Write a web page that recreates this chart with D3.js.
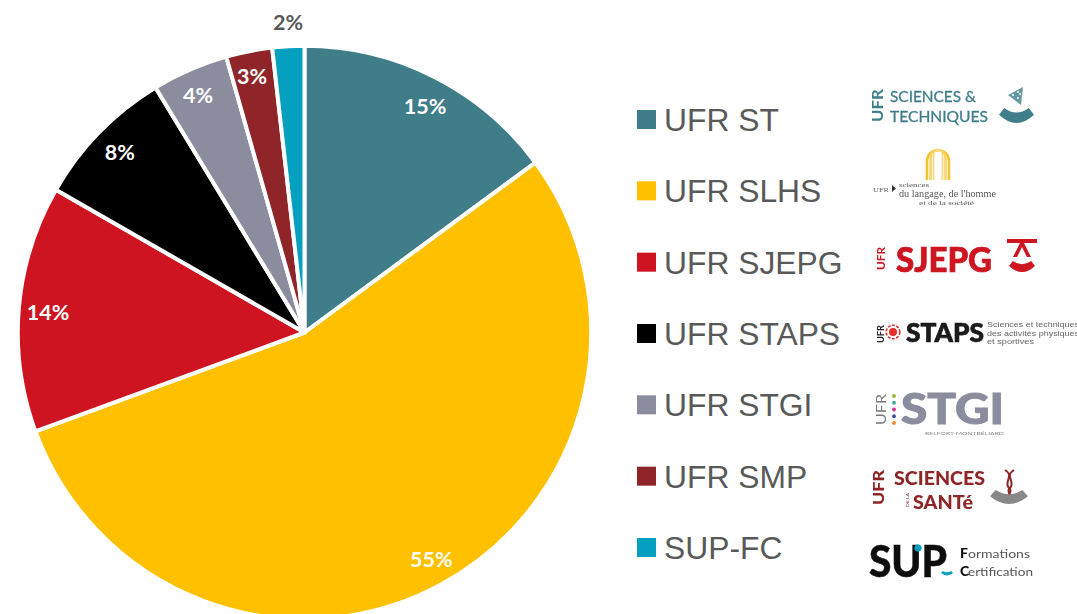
<!DOCTYPE html>
<html><head><meta charset="utf-8">
<script src="https://cdnjs.cloudflare.com/ajax/libs/d3/7.8.5/d3.min.js"></script>
<style>html,body{margin:0;padding:0;background:#fff;overflow:hidden}svg{display:block}</style>
</head><body><svg id="c" width="1077" height="614"></svg>
<script>
const categories = ["UFR ST","UFR SLHS","UFR SJEPG","UFR STAPS","UFR STGI","UFR SMP","SUP-FC"];
const shares = [14.9,54.5,13.9,8.0,4.3,2.6,1.8];
const colors = ["#3F7E89","#FFC000","#CE1420","#000000","#8B8C9E","#8F2528","#05A0C0"];
const labelRadii = [0.899,0.909,0.901,0.904,0.913,0.916,1.089];
const labelTurn = [1.2,-1,-0.3,0,-0.5,-0.4,0.2];

const svg = d3.select("#c");
const cx=304.5, cy=332.5, R=286.7, labelR=285.5;
const pie = d3.pie().sort(null).value(d=>d)(shares);
const arc = d3.arc().innerRadius(0).outerRadius(R);
const g = svg.append("g").attr("transform",`translate(${cx},${cy})`);
g.selectAll("path").data(pie).join("path")
 .attr("d",arc).attr("fill",(d,i)=>colors[i]).attr("stroke","#fff").attr("stroke-width",4).attr("stroke-linejoin","round");
const fmt = d3.format(".0%");
g.selectAll("text").data(pie).join("text")
 .attr("transform",(d,i)=>{const a=(d.startAngle+d.endAngle)/2+labelTurn[i]*Math.PI/180,r=labelR*labelRadii[i];return `translate(${r*Math.sin(a)},${-r*Math.cos(a)})`;})
 .attr("text-anchor","middle").attr("dominant-baseline","central")
 .attr("font-family","Lato").attr("font-weight",700).attr("font-size",21.5)
 .attr("fill",(d,i)=>i===6?"#595959":"#fff")
 .text(d=>fmt(d.value/100));

const y = d3.scalePoint().domain(categories).range([120,548]);
const leg = svg.append("g");
leg.selectAll("rect").data(categories).join("rect")
 .attr("x",637).attr("y",d=>y(d)-10).attr("width",19).attr("height",19).attr("fill",(d,i)=>colors[i]);
leg.selectAll("text").data(categories).join("text")
 .attr("x",664).attr("y",d=>y(d)+11).attr("font-family","Liberation Sans").attr("font-size",31.8).attr("fill","#595959").text(d=>d);

// logos
svg.append("defs").append("filter").attr("id","soft").append("feGaussianBlur").attr("stdDeviation",0.4);
const logo = svg.append("g").attr("filter","url(#soft)");
function t(x,y,s,size,fill,o={}){
  return logo.append("text").attr("x",x).attr("y",y).attr("font-size",size).attr("fill",fill)
    .attr("font-family",o.f||"Lato").attr("font-weight",o.w||400)
    .attr("stroke",o.s?fill:null).attr("stroke-width",o.s||null)
    .attr("textLength",o.l||null).attr("lengthAdjust",o.l?"spacingAndGlyphs":null)
    .attr("transform",o.r?`rotate(-90 ${x} ${y})`:null).text(s);
}
const smile=(x,y,w,h,fill)=>logo.append("path").attr("fill",fill)
  .attr("d",`M${x} ${y+h*.45}L${x+w*.15} ${y}Q${x+w/2} ${y+h*.6} ${x+w*.85} ${y}L${x+w} ${y+h*.45}Q${x+w/2} ${y+h*1.55} ${x} ${y+h*.45}Z`);
const dot=(x,y,r,fill)=>logo.append("circle").attr("cx",x).attr("cy",y).attr("r",r).attr("fill",fill);

// ST
const st="#3F7E89";
t(883,122,"UFR",15,st,{r:1,w:700,l:33});
t(890,101.5,"SCIENCES &",16,st,{w:400,l:86,s:.3});
t(890,122,"TECHNIQUES",15.5,st,{w:400,l:98,s:.3});
logo.append("path").attr("d","M1023 87L1008 95L1021 105Z").attr("fill",st).attr("opacity",.8);
[[1013,95],[1018,92],[1018,98],[1020,94]].forEach(p=>dot(p[0],p[1],1,"#fff"));
smile(999,108,35,15,st);
// SLHS
const arch=(r,b,c,w)=>logo.append("path").attr("fill","none").attr("stroke",c).attr("stroke-width",w)
  .attr("d",`M${938-r} ${b}V${150+r}a${r} ${r} 0 0 1 ${2*r} 0V${b}`);
arch(11,180,"#F5C32C",2.5); arch(7.5,180,"#F7D264",2.5); arch(4.5,180,"#F8D97E",1.8);
t(873,192,"UFR",6,"#666",{f:"Liberation Serif",l:16});
logo.append("path").attr("d","M892 185L896 188.5L892 192Z").attr("fill","#333");
t(899,186.5,"sciences",7,"#555",{f:"Liberation Serif",l:30});
t(899,196.5,"du langage, de l'homme",9.5,"#555",{f:"Liberation Serif",l:97});
t(919,205,"et de la société",7,"#555",{f:"Liberation Serif",l:55});
// SJEPG
const sj="#CE1420";
t(885,270,"UFR",11,sj,{r:1,w:700,l:23});
t(896,272,"SJEPG",34.5,sj,{w:900,l:96,s:.7});
logo.append("path").attr("d","M1007 239H1037V243H1024L1031 257H1027L1022 247L1017 257H1013L1020 243H1007Z").attr("fill",sj);
smile(1009,261,26,11,sj);
// STAPS
t(884,343,"UFR",9.5,"#222",{r:1,w:700,l:18});
dot(893,332,4,"#E0322A");
logo.append("circle").attr("cx",893).attr("cy",332).attr("r",6.8).attr("fill","none").attr("stroke","#E0322A").attr("stroke-width",1.6).attr("stroke-dasharray","3 1.4");
t(906,342,"STAPS",26.5,"#1a1a1a",{w:900,l:78,s:.7});
t(987,327,"Sciences et techniques",7.5,"#666",{f:"Liberation Sans",l:92});
t(987,335.5,"des activités physiques",7.5,"#666",{f:"Liberation Sans",l:92});
t(987,344,"et sportives",7.5,"#666",{f:"Liberation Sans",l:47});
// STGI
t(886,425,"UFR",14,"#777",{r:1,l:31});
["#8DB63F","#3BA9A0","#D3348A","#3D4E9E","#EE8A22"].forEach((c,i)=>dot(894,396+i*6.75,1.9,c));
t(901,424,"STGI",42,"#8B8C9E",{w:900,l:103,s:1});
t(925,435,"BELFORT·MONTBÉLIARD",4.5,"#888",{l:79});
// SMP
const sm="#8F2528";
t(884,505,"UFR",15,sm,{r:1,w:900,l:35});
t(894,485,"SCIENCES",19.5,sm,{w:900,l:91});
t(909,507,"DE LA",4.5,sm,{r:1,l:14});
t(913,508.75,"SANTé",19.5,sm,{w:900,l:60});
logo.append("path").attr("d","M1005 470C1015 476 1003 482 1009 488C1014 492 1006 494 1009 497M1014 470C1004 476 1016 482 1010 488C1005 492 1013 494 1010 497").attr("fill","none").attr("stroke",sm).attr("stroke-width",2);
smile(990,490,38,14,"#888");
// SUP
t(869,577,"SUP",44,"#111",{w:900,l:78,s:.5});
dot(918,548,3.6,"#05A0C0");
smile(941,571,12,4.5,"#05A0C0");
t(960,558,"F",14,"#111",{w:900});
t(968,558,"ormations",11,"#555",{l:62});
t(960,576,"C",14,"#111",{w:900});
t(968,576,"ertification",11,"#555",{l:65});
</script></body></html>
